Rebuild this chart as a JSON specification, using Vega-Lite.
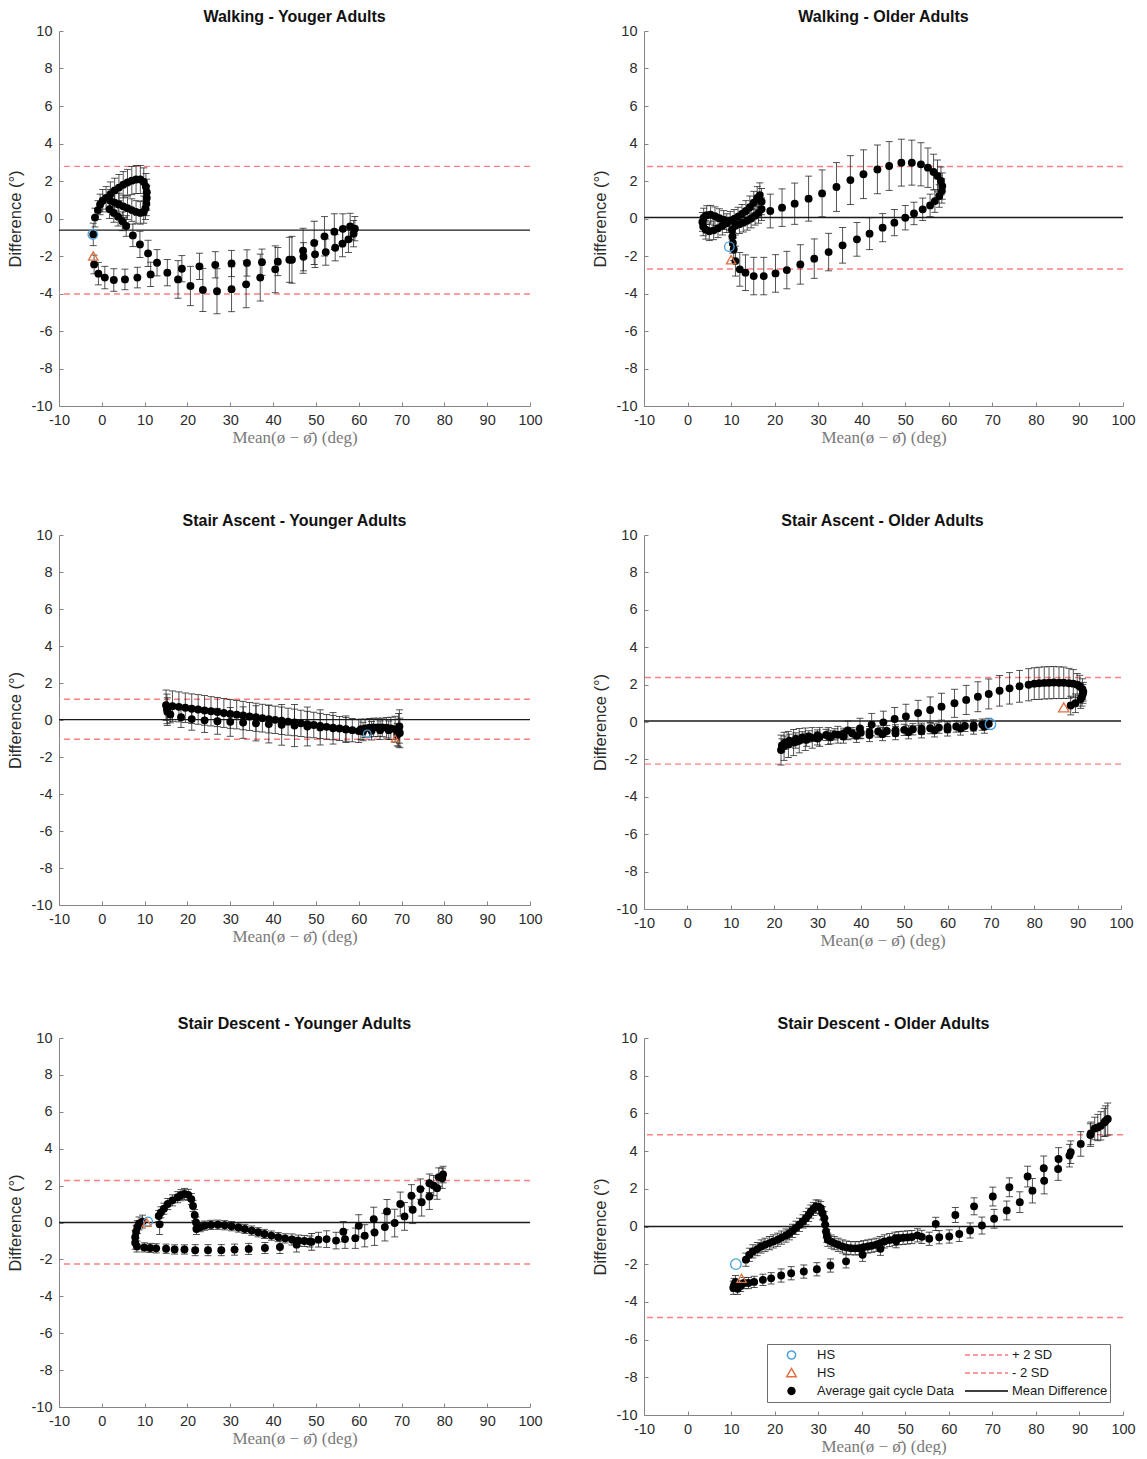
{
"$schema": "https://vega.github.io/schema/vega-lite/v6.json",
"background": "white",
"padding": {"left": 7, "top": 9, "right": 5, "bottom": 0},
"datasets": {
"lines": [
{"p":"wy","k":"sd","y":2.78},{"p":"wy","k":"sd","y":-4.03},{"p":"wy","k":"m","y":-0.62},
{"p":"wo","k":"sd","y":2.77},{"p":"wo","k":"sd","y":-2.69},{"p":"wo","k":"m","y":0.05},
{"p":"ay","k":"sd","y":1.12},{"p":"ay","k":"sd","y":-1.04},{"p":"ay","k":"m","y":0.02},
{"p":"ao","k":"sd","y":2.38},{"p":"ao","k":"sd","y":-2.25},{"p":"ao","k":"m","y":0.05},
{"p":"dy","k":"sd","y":2.28},{"p":"dy","k":"sd","y":-2.25},{"p":"dy","k":"m","y":0.0},
{"p":"do","k":"sd","y":4.87},{"p":"do","k":"sd","y":-4.83},{"p":"do","k":"m","y":0.0}
],
"hs": [
{"p":"wy","s":"HS_c","x":-2.1,"y":-0.85},{"p":"wy","s":"HS_t","x":-2.0,"y":-2.0},
{"p":"wo","s":"HS_c","x":9.6,"y":-1.5},{"p":"wo","s":"HS_t","x":10.0,"y":-2.2},
{"p":"ay","s":"HS_c","x":62.0,"y":-0.75},{"p":"ay","s":"HS_t","x":68.5,"y":-1.0},
{"p":"ao","s":"HS_c","x":69.9,"y":-0.12},{"p":"ao","s":"HS_t","x":86.8,"y":0.78},
{"p":"dy","s":"HS_c","x":10.8,"y":0.05},{"p":"dy","s":"HS_t","x":10.5,"y":0.0},
{"p":"do","s":"HS_c","x":11.1,"y":-2.0},{"p":"do","s":"HS_t","x":12.4,"y":-2.75}
],
"pts": [
{"p":"wy","x":-2.0,"y":-0.85,"e":0.6},{"p":"wy","x":-1.6,"y":0.05,"e":0.5},{"p":"wy","x":-0.9,"y":0.45,"e":0.5},{"p":"wy","x":-0.4,"y":0.75,"e":0.55},{"p":"wy","x":0.2,"y":0.95,"e":0.6},
{"p":"wy","x":1,"y":1.1,"e":0.6},{"p":"wy","x":2,"y":1.3,"e":0.65},{"p":"wy","x":3,"y":1.5,"e":0.65},{"p":"wy","x":4,"y":1.65,"e":0.7},{"p":"wy","x":5,"y":1.8,"e":0.7},{"p":"wy","x":6,"y":1.92,"e":0.7},{"p":"wy","x":7,"y":2.02,"e":0.75},{"p":"wy","x":8,"y":2.08,"e":0.75},{"p":"wy","x":9,"y":2.08,"e":0.75},{"p":"wy","x":9.8,"y":1.95,"e":0.75},
{"p":"wy","x":10.3,"y":1.7,"e":0.7},{"p":"wy","x":10.5,"y":1.4,"e":0.7},{"p":"wy","x":10.5,"y":1.1,"e":0.65},{"p":"wy","x":10.4,"y":0.8,"e":0.65},{"p":"wy","x":10.2,"y":0.55,"e":0.6},{"p":"wy","x":9.8,"y":0.35,"e":0.6},
{"p":"wy","x":9,"y":0.3,"e":0.6},{"p":"wy","x":8,"y":0.35,"e":0.6},{"p":"wy","x":7,"y":0.45,"e":0.6},{"p":"wy","x":6,"y":0.55,"e":0.6},{"p":"wy","x":5,"y":0.65,"e":0.6},{"p":"wy","x":4,"y":0.75,"e":0.6},{"p":"wy","x":3,"y":0.85,"e":0.6},{"p":"wy","x":2,"y":0.95,"e":0.6},
{"p":"wy","x":1.8,"y":0.5,"e":0.5},{"p":"wy","x":2.8,"y":0.3,"e":0.5},{"p":"wy","x":3.8,"y":0.1,"e":0.5},{"p":"wy","x":4.8,"y":-0.15,"e":0.5},{"p":"wy","x":5.7,"y":-0.4,"e":0.55},{"p":"wy","x":7.25,"y":-0.9,"e":0.6},{"p":"wy","x":8.9,"y":-1.38,"e":0.7},{"p":"wy","x":10.8,"y":-1.86,"e":0.7},{"p":"wy","x":12.9,"y":-2.36,"e":0.7},
{"p":"wy","x":18.7,"y":-2.68,"e":0.7},{"p":"wy","x":22.8,"y":-2.55,"e":0.7},{"p":"wy","x":26.5,"y":-2.47,"e":0.7},{"p":"wy","x":30.3,"y":-2.4,"e":0.7},{"p":"wy","x":33.9,"y":-2.37,"e":0.7},{"p":"wy","x":37.4,"y":-2.33,"e":0.7},{"p":"wy","x":41.1,"y":-2.3,"e":0.75},{"p":"wy","x":44.4,"y":-2.2,"e":1.25},{"p":"wy","x":47.0,"y":-1.72,"e":1.2},{"p":"wy","x":49.6,"y":-1.3,"e":1.15},{"p":"wy","x":52.0,"y":-0.95,"e":1.05},{"p":"wy","x":54.3,"y":-0.7,"e":0.95},{"p":"wy","x":56.3,"y":-0.55,"e":0.8},{"p":"wy","x":58.0,"y":-0.42,"e":0.7},
{"p":"wy","x":-1.8,"y":-2.45,"e":0.5},{"p":"wy","x":-0.8,"y":-2.94,"e":0.6},{"p":"wy","x":0.7,"y":-3.15,"e":0.6},{"p":"wy","x":2.8,"y":-3.28,"e":0.6},{"p":"wy","x":5.4,"y":-3.25,"e":0.55},{"p":"wy","x":8.3,"y":-3.15,"e":0.55},{"p":"wy","x":11.4,"y":-2.98,"e":0.65},{"p":"wy","x":15.3,"y":-2.89,"e":0.7},{"p":"wy","x":17.8,"y":-3.25,"e":1.0},{"p":"wy","x":20.7,"y":-3.6,"e":1.05},{"p":"wy","x":23.6,"y":-3.81,"e":1.15},{"p":"wy","x":26.9,"y":-3.88,"e":1.2},{"p":"wy","x":30.3,"y":-3.77,"e":1.2},{"p":"wy","x":33.7,"y":-3.51,"e":1.25},{"p":"wy","x":37.0,"y":-3.15,"e":1.25},{"p":"wy","x":40.5,"y":-2.71,"e":1.25},{"p":"wy","x":43.8,"y":-2.2,"e":1.2},{"p":"wy","x":47.1,"y":-2.04,"e":0.75},{"p":"wy","x":49.8,"y":-1.91,"e":0.7},{"p":"wy","x":52.3,"y":-1.79,"e":0.7},{"p":"wy","x":54.5,"y":-1.56,"e":0.7},{"p":"wy","x":56.2,"y":-1.34,"e":0.7},{"p":"wy","x":57.6,"y":-1.11,"e":0.7},{"p":"wy","x":58.8,"y":-0.81,"e":0.7},{"p":"wy","x":59.1,"y":-0.54,"e":0.65},

{"p":"wo","x":10.6,"y":-1.64,"e":0.6},{"p":"wo","x":11.0,"y":-2.27,"e":0.8},{"p":"wo","x":12.0,"y":-2.71,"e":0.9},{"p":"wo","x":13.3,"y":-2.89,"e":0.95},{"p":"wo","x":15.2,"y":-3.07,"e":1.0},{"p":"wo","x":17.5,"y":-3.07,"e":1.0},{"p":"wo","x":20.2,"y":-2.93,"e":1.0},{"p":"wo","x":22.8,"y":-2.75,"e":1.0},{"p":"wo","x":25.9,"y":-2.45,"e":1.05},{"p":"wo","x":29.1,"y":-2.14,"e":1.05},{"p":"wo","x":32.4,"y":-1.79,"e":1.0},{"p":"wo","x":35.6,"y":-1.43,"e":0.95},{"p":"wo","x":38.9,"y":-1.11,"e":0.9},{"p":"wo","x":41.8,"y":-0.81,"e":0.85},{"p":"wo","x":44.8,"y":-0.49,"e":0.75},{"p":"wo","x":47.5,"y":-0.22,"e":0.7},{"p":"wo","x":50.0,"y":0.04,"e":0.65},{"p":"wo","x":52.0,"y":0.27,"e":0.6},{"p":"wo","x":54.0,"y":0.49,"e":0.6},
{"p":"wo","x":55.7,"y":0.7,"e":0.6},{"p":"wo","x":56.8,"y":0.93,"e":0.6},{"p":"wo","x":57.8,"y":1.2,"e":0.6},{"p":"wo","x":58.4,"y":1.47,"e":0.65},{"p":"wo","x":58.5,"y":1.73,"e":0.7},{"p":"wo","x":58.2,"y":2.0,"e":0.75},{"p":"wo","x":57.4,"y":2.27,"e":0.85},{"p":"wo","x":56.5,"y":2.48,"e":0.95},{"p":"wo","x":55.2,"y":2.71,"e":1.05},{"p":"wo","x":53.6,"y":2.89,"e":1.15},
{"p":"wo","x":51.5,"y":2.98,"e":1.2},{"p":"wo","x":49.1,"y":2.98,"e":1.25},{"p":"wo","x":46.3,"y":2.8,"e":1.3},{"p":"wo","x":43.6,"y":2.62,"e":1.3},{"p":"wo","x":40.4,"y":2.36,"e":1.3},{"p":"wo","x":37.4,"y":2.05,"e":1.3},{"p":"wo","x":34.2,"y":1.68,"e":1.3},{"p":"wo","x":30.9,"y":1.34,"e":1.25},{"p":"wo","x":27.8,"y":1.06,"e":1.2},{"p":"wo","x":24.6,"y":0.79,"e":1.1},{"p":"wo","x":21.7,"y":0.58,"e":1.0},{"p":"wo","x":19.0,"y":0.4,"e":0.9},
{"p":"wo","x":17.0,"y":0.9,"e":0.7},{"p":"wo","x":16.6,"y":1.25,"e":0.65},{"p":"wo","x":16.0,"y":1.1,"e":0.6},{"p":"wo","x":15.2,"y":0.85,"e":0.6},{"p":"wo","x":14.3,"y":0.6,"e":0.6},{"p":"wo","x":13.4,"y":0.4,"e":0.55},{"p":"wo","x":12.5,"y":0.25,"e":0.5},{"p":"wo","x":11.6,"y":0.1,"e":0.5},{"p":"wo","x":10.7,"y":-0.02,"e":0.5},{"p":"wo","x":9.8,"y":-0.12,"e":0.5},
{"p":"wo","x":17.0,"y":0.5,"e":0.6},{"p":"wo","x":16.3,"y":0.3,"e":0.55},{"p":"wo","x":15.5,"y":0.15,"e":0.5},{"p":"wo","x":14.6,"y":0.0,"e":0.5},{"p":"wo","x":13.7,"y":-0.12,"e":0.5},{"p":"wo","x":12.8,"y":-0.22,"e":0.5},{"p":"wo","x":11.9,"y":-0.3,"e":0.5},{"p":"wo","x":11.0,"y":-0.38,"e":0.5},
{"p":"wo","x":9.0,"y":-0.25,"e":0.5},{"p":"wo","x":8.0,"y":-0.38,"e":0.5},{"p":"wo","x":7.0,"y":-0.52,"e":0.5},{"p":"wo","x":6.0,"y":-0.63,"e":0.5},{"p":"wo","x":5.0,"y":-0.68,"e":0.5},{"p":"wo","x":4.2,"y":-0.6,"e":0.5},{"p":"wo","x":3.6,"y":-0.42,"e":0.5},{"p":"wo","x":3.4,"y":-0.18,"e":0.5},{"p":"wo","x":3.7,"y":0.05,"e":0.5},{"p":"wo","x":4.4,"y":0.18,"e":0.5},{"p":"wo","x":5.3,"y":0.2,"e":0.5},{"p":"wo","x":6.3,"y":0.12,"e":0.5},{"p":"wo","x":7.3,"y":0.02,"e":0.5},{"p":"wo","x":8.3,"y":-0.08,"e":0.5},
{"p":"wo","x":10.2,"y":-0.6,"e":0.5},{"p":"wo","x":10.3,"y":-0.95,"e":0.5},{"p":"wo","x":10.4,"y":-1.3,"e":0.55},

{"p":"ay","x":15,"y":0.8,"e":0.82},{"p":"ay","x":16.5,"y":0.75,"e":0.82},{"p":"ay","x":18,"y":0.71,"e":0.81},{"p":"ay","x":19.5,"y":0.66,"e":0.8},{"p":"ay","x":21,"y":0.61,"e":0.8},{"p":"ay","x":22.5,"y":0.57,"e":0.8},{"p":"ay","x":24,"y":0.52,"e":0.8},{"p":"ay","x":25.5,"y":0.47,"e":0.79},{"p":"ay","x":27,"y":0.43,"e":0.79},{"p":"ay","x":28.5,"y":0.38,"e":0.78},{"p":"ay","x":30,"y":0.33,"e":0.78},{"p":"ay","x":31.5,"y":0.29,"e":0.77},{"p":"ay","x":33,"y":0.24,"e":0.77},{"p":"ay","x":34.5,"y":0.19,"e":0.76},{"p":"ay","x":36,"y":0.15,"e":0.76},{"p":"ay","x":37.5,"y":0.1,"e":0.75},{"p":"ay","x":39,"y":0.05,"e":0.75},{"p":"ay","x":40.5,"y":0.01,"e":0.74},{"p":"ay","x":42,"y":-0.04,"e":0.74},{"p":"ay","x":43.5,"y":-0.09,"e":0.73},{"p":"ay","x":45,"y":-0.13,"e":0.72},{"p":"ay","x":46.5,"y":-0.18,"e":0.71},{"p":"ay","x":48,"y":-0.23,"e":0.7},{"p":"ay","x":49.5,"y":-0.27,"e":0.69},{"p":"ay","x":51,"y":-0.32,"e":0.68},{"p":"ay","x":52.5,"y":-0.37,"e":0.67},{"p":"ay","x":54,"y":-0.41,"e":0.66},{"p":"ay","x":55.5,"y":-0.46,"e":0.65},{"p":"ay","x":57,"y":-0.51,"e":0.64},{"p":"ay","x":58.5,"y":-0.55,"e":0.63},{"p":"ay","x":60,"y":-0.6,"e":0.62},
{"p":"ay","x":15.2,"y":0.6,"e":0.8},{"p":"ay","x":15.3,"y":0.45,"e":0.75},{"p":"ay","x":16,"y":0.3,"e":0.45},{"p":"ay","x":18.5,"y":0.15,"e":0.55},{"p":"ay","x":21,"y":0.05,"e":0.6},{"p":"ay","x":24,"y":-0.02,"e":0.65},{"p":"ay","x":27,"y":-0.07,"e":0.7},{"p":"ay","x":30,"y":-0.1,"e":0.78},{"p":"ay","x":33,"y":-0.14,"e":0.85},{"p":"ay","x":36,"y":-0.18,"e":0.95},{"p":"ay","x":39,"y":-0.22,"e":1.02},{"p":"ay","x":42,"y":-0.26,"e":1.1},{"p":"ay","x":45,"y":-0.3,"e":1.14},{"p":"ay","x":48,"y":-0.35,"e":1.05},{"p":"ay","x":51,"y":-0.4,"e":0.95},{"p":"ay","x":54,"y":-0.45,"e":0.85},{"p":"ay","x":57,"y":-0.5,"e":0.72},
{"p":"ay","x":60.5,"y":-0.5,"e":0.55},{"p":"ay","x":61.5,"y":-0.45,"e":0.5},{"p":"ay","x":62.5,"y":-0.42,"e":0.5},{"p":"ay","x":63.5,"y":-0.4,"e":0.5},{"p":"ay","x":64.5,"y":-0.4,"e":0.5},{"p":"ay","x":65.5,"y":-0.4,"e":0.5},{"p":"ay","x":66.5,"y":-0.42,"e":0.55},{"p":"ay","x":67.5,"y":-0.45,"e":0.6},{"p":"ay","x":68.5,"y":-0.5,"e":0.7},{"p":"ay","x":69.3,"y":-0.55,"e":0.9},{"p":"ay","x":69.5,"y":-0.35,"e":0.9},{"p":"ay","x":69.6,"y":-0.7,"e":0.8},{"p":"ay","x":69.0,"y":-0.8,"e":0.6},{"p":"ay","x":61,"y":-0.62,"e":0.5},{"p":"ay","x":63,"y":-0.58,"e":0.5},{"p":"ay","x":65,"y":-0.55,"e":0.5},{"p":"ay","x":67,"y":-0.55,"e":0.5},

{"p":"ao","x":37.0,"y":-0.45,"e":0.5},{"p":"ao","x":39.8,"y":-0.35,"e":0.55},{"p":"ao","x":42.5,"y":-0.14,"e":0.6},{"p":"ao","x":45.2,"y":-0.02,"e":0.6},{"p":"ao","x":47.8,"y":0.16,"e":0.62},{"p":"ao","x":50.4,"y":0.3,"e":0.65},{"p":"ao","x":53.2,"y":0.48,"e":0.68},{"p":"ao","x":56.0,"y":0.64,"e":0.7},{"p":"ao","x":58.6,"y":0.82,"e":0.72},{"p":"ao","x":61.6,"y":1.0,"e":0.75},{"p":"ao","x":64.3,"y":1.18,"e":0.78},{"p":"ao","x":67.0,"y":1.35,"e":0.8},{"p":"ao","x":69.5,"y":1.5,"e":0.8},{"p":"ao","x":72.0,"y":1.67,"e":0.82},{"p":"ao","x":74.3,"y":1.8,"e":0.84},{"p":"ao","x":76.6,"y":1.91,"e":0.85},{"p":"ao","x":78.7,"y":1.99,"e":0.86},{"p":"ao","x":80.0,"y":2.05,"e":0.85},{"p":"ao","x":81.1,"y":2.07,"e":0.86},{"p":"ao","x":82.3,"y":2.09,"e":0.86},{"p":"ao","x":83.4,"y":2.1,"e":0.86},{"p":"ao","x":84.5,"y":2.11,"e":0.86},{"p":"ao","x":85.7,"y":2.1,"e":0.85},{"p":"ao","x":86.8,"y":2.1,"e":0.84},{"p":"ao","x":88.0,"y":2.07,"e":0.8},{"p":"ao","x":89.0,"y":2.05,"e":0.75},{"p":"ao","x":89.9,"y":1.99,"e":0.6},{"p":"ao","x":90.5,"y":1.9,"e":0.6},{"p":"ao","x":91.1,"y":1.76,"e":0.55},{"p":"ao","x":91.3,"y":1.62,"e":0.5},{"p":"ao","x":91.2,"y":1.5,"e":0.5},{"p":"ao","x":91.0,"y":1.35,"e":0.5},{"p":"ao","x":90.7,"y":1.23,"e":0.5},{"p":"ao","x":89.5,"y":1.0,"e":0.5},{"p":"ao","x":88.4,"y":0.88,"e":0.5},
{"p":"ao","x":21.6,"y":-1.5,"e":0.8},{"p":"ao","x":22.3,"y":-1.3,"e":0.75},{"p":"ao","x":23.3,"y":-1.2,"e":0.7},{"p":"ao","x":24.5,"y":-1.1,"e":0.7},{"p":"ao","x":25.8,"y":-1.0,"e":0.65},{"p":"ao","x":27.2,"y":-0.92,"e":0.6},{"p":"ao","x":28.8,"y":-0.85,"e":0.55},{"p":"ao","x":30.5,"y":-0.8,"e":0.5},{"p":"ao","x":32.5,"y":-0.75,"e":0.45},{"p":"ao","x":34.7,"y":-0.68,"e":0.45},
{"p":"ao","x":21.8,"y":-1.25,"e":0.35},{"p":"ao","x":22.5,"y":-1.1,"e":0.35},{"p":"ao","x":23.5,"y":-1.0,"e":0.35},{"p":"ao","x":25,"y":-0.9,"e":0.32},{"p":"ao","x":26.5,"y":-0.82,"e":0.3},{"p":"ao","x":28,"y":-0.77,"e":0.3},{"p":"ao","x":30,"y":-0.72,"e":0.3},{"p":"ao","x":32,"y":-0.69,"e":0.3},{"p":"ao","x":34,"y":-0.66,"e":0.3},{"p":"ao","x":36,"y":-0.63,"e":0.3},{"p":"ao","x":38,"y":-0.6,"e":0.3},{"p":"ao","x":40,"y":-0.57,"e":0.3},{"p":"ao","x":42,"y":-0.54,"e":0.3},{"p":"ao","x":44,"y":-0.51,"e":0.3},{"p":"ao","x":46,"y":-0.48,"e":0.3},{"p":"ao","x":48,"y":-0.45,"e":0.3},{"p":"ao","x":50,"y":-0.42,"e":0.3},{"p":"ao","x":52,"y":-0.39,"e":0.3},{"p":"ao","x":54,"y":-0.36,"e":0.3},{"p":"ao","x":56,"y":-0.33,"e":0.3},{"p":"ao","x":58,"y":-0.3,"e":0.3},{"p":"ao","x":60,"y":-0.27,"e":0.3},{"p":"ao","x":62,"y":-0.24,"e":0.3},{"p":"ao","x":64,"y":-0.21,"e":0.3},{"p":"ao","x":66,"y":-0.18,"e":0.3},{"p":"ao","x":68,"y":-0.14,"e":0.3},{"p":"ao","x":69.5,"y":-0.1,"e":0.3},
{"p":"ao","x":25,"y":-1.05,"e":0.35},{"p":"ao","x":27.5,"y":-0.95,"e":0.35},{"p":"ao","x":30,"y":-0.88,"e":0.35},{"p":"ao","x":33,"y":-0.82,"e":0.35},{"p":"ao","x":36,"y":-0.78,"e":0.35},{"p":"ao","x":39,"y":-0.74,"e":0.35},{"p":"ao","x":42,"y":-0.7,"e":0.35},{"p":"ao","x":45,"y":-0.65,"e":0.35},{"p":"ao","x":48,"y":-0.6,"e":0.35},{"p":"ao","x":51,"y":-0.55,"e":0.35},{"p":"ao","x":54,"y":-0.5,"e":0.35},{"p":"ao","x":57,"y":-0.45,"e":0.35},{"p":"ao","x":60,"y":-0.4,"e":0.35},{"p":"ao","x":63,"y":-0.35,"e":0.35},{"p":"ao","x":66,"y":-0.3,"e":0.35},{"p":"ao","x":68.5,"y":-0.25,"e":0.35},

{"p":"dy","x":8.2,"y":-1.3,"e":0.3},{"p":"dy","x":9.9,"y":-1.35,"e":0.25},{"p":"dy","x":11.3,"y":-1.38,"e":0.25},{"p":"dy","x":12.7,"y":-1.4,"e":0.25},{"p":"dy","x":15.0,"y":-1.42,"e":0.25},{"p":"dy","x":17.0,"y":-1.46,"e":0.25},{"p":"dy","x":19.3,"y":-1.46,"e":0.25},{"p":"dy","x":21.8,"y":-1.5,"e":0.3},{"p":"dy","x":24.8,"y":-1.5,"e":0.3},{"p":"dy","x":27.9,"y":-1.5,"e":0.3},{"p":"dy","x":31.0,"y":-1.47,"e":0.3},{"p":"dy","x":34.3,"y":-1.43,"e":0.3},{"p":"dy","x":38.1,"y":-1.38,"e":0.3},{"p":"dy","x":41.6,"y":-1.33,"e":0.35},{"p":"dy","x":45.5,"y":-1.2,"e":0.4},{"p":"dy","x":49.0,"y":-1.05,"e":0.45},
{"p":"dy","x":7.8,"y":-1.1,"e":0.35},{"p":"dy","x":7.8,"y":-0.8,"e":0.35},{"p":"dy","x":8.0,"y":-0.5,"e":0.35},{"p":"dy","x":8.3,"y":-0.25,"e":0.35},{"p":"dy","x":8.7,"y":-0.05,"e":0.35},{"p":"dy","x":9.5,"y":0.05,"e":0.35},
{"p":"dy","x":13.5,"y":-0.1,"e":0.55},{"p":"dy","x":13.3,"y":0.35,"e":0.3},{"p":"dy","x":13.8,"y":0.55,"e":0.3},{"p":"dy","x":14.5,"y":0.75,"e":0.3},{"p":"dy","x":15.4,"y":1.0,"e":0.3},{"p":"dy","x":16.5,"y":1.2,"e":0.3},{"p":"dy","x":17.7,"y":1.37,"e":0.3},{"p":"dy","x":18.5,"y":1.48,"e":0.3},{"p":"dy","x":19.3,"y":1.55,"e":0.3},{"p":"dy","x":20.2,"y":1.5,"e":0.3},{"p":"dy","x":20.9,"y":1.27,"e":0.3},{"p":"dy","x":21.3,"y":0.9,"e":0.3},{"p":"dy","x":21.7,"y":0.4,"e":0.3},{"p":"dy","x":22.0,"y":0.0,"e":0.3},{"p":"dy","x":22.1,"y":-0.35,"e":0.3},
{"p":"dy","x":23,"y":-0.25,"e":0.25},{"p":"dy","x":24,"y":-0.17,"e":0.25},{"p":"dy","x":25.5,"y":-0.13,"e":0.25},{"p":"dy","x":27.1,"y":-0.12,"e":0.25},{"p":"dy","x":28.7,"y":-0.15,"e":0.25},{"p":"dy","x":30.3,"y":-0.2,"e":0.25},{"p":"dy","x":31.9,"y":-0.27,"e":0.25},{"p":"dy","x":33.4,"y":-0.35,"e":0.25},{"p":"dy","x":35,"y":-0.44,"e":0.25},{"p":"dy","x":36.5,"y":-0.53,"e":0.25},{"p":"dy","x":38,"y":-0.62,"e":0.25},{"p":"dy","x":39.6,"y":-0.71,"e":0.25},{"p":"dy","x":41.2,"y":-0.79,"e":0.25},{"p":"dy","x":42.8,"y":-0.86,"e":0.25},{"p":"dy","x":44.4,"y":-0.92,"e":0.3},{"p":"dy","x":45.9,"y":-0.98,"e":0.3},{"p":"dy","x":47.3,"y":-1.0,"e":0.3},{"p":"dy","x":48.6,"y":-1.03,"e":0.3},
{"p":"dy","x":50.6,"y":-0.93,"e":0.4},{"p":"dy","x":52.5,"y":-0.9,"e":0.45},{"p":"dy","x":54.7,"y":-0.98,"e":0.45},{"p":"dy","x":56.4,"y":-0.5,"e":0.55},{"p":"dy","x":56.8,"y":-0.9,"e":0.5},{"p":"dy","x":59.2,"y":-0.85,"e":0.55},{"p":"dy","x":60.0,"y":-0.18,"e":0.6},{"p":"dy","x":61.4,"y":-0.72,"e":0.6},{"p":"dy","x":63.5,"y":0.18,"e":0.65},{"p":"dy","x":63.7,"y":-0.54,"e":0.7},{"p":"dy","x":66.1,"y":-0.25,"e":0.75},{"p":"dy","x":66.6,"y":0.6,"e":0.65},{"p":"dy","x":68.4,"y":-0.03,"e":0.75},{"p":"dy","x":69.7,"y":1.0,"e":0.65},{"p":"dy","x":70.7,"y":0.33,"e":0.75},{"p":"dy","x":72.3,"y":1.45,"e":0.6},{"p":"dy","x":72.6,"y":0.69,"e":0.75},{"p":"dy","x":74.4,"y":1.81,"e":0.55},{"p":"dy","x":74.7,"y":1.1,"e":0.75},{"p":"dy","x":76.5,"y":2.13,"e":0.5},{"p":"dy","x":76.5,"y":1.41,"e":0.7},{"p":"dy","x":77.5,"y":2.0,"e":0.55},{"p":"dy","x":78.3,"y":1.86,"e":0.6},{"p":"dy","x":78.7,"y":2.46,"e":0.5},{"p":"dy","x":79.5,"y":2.4,"e":0.55},{"p":"dy","x":79.7,"y":2.6,"e":0.45},

{"p":"do","x":10.5,"y":-3.25,"e":0.35},{"p":"do","x":10.7,"y":-3.1,"e":0.35},{"p":"do","x":11.0,"y":-2.95,"e":0.35},{"p":"do","x":11.5,"y":-3.3,"e":0.3},{"p":"do","x":12.2,"y":-3.15,"e":0.3},{"p":"do","x":13.0,"y":-3.0,"e":0.3},{"p":"do","x":14.0,"y":-3.0,"e":0.3},{"p":"do","x":15.3,"y":-2.94,"e":0.3},{"p":"do","x":17.3,"y":-2.83,"e":0.3},{"p":"do","x":19.2,"y":-2.75,"e":0.3},{"p":"do","x":21.5,"y":-2.6,"e":0.35},{"p":"do","x":23.8,"y":-2.48,"e":0.35},{"p":"do","x":26.7,"y":-2.39,"e":0.35},{"p":"do","x":29.7,"y":-2.27,"e":0.35},{"p":"do","x":32.8,"y":-2.07,"e":0.35},{"p":"do","x":36.4,"y":-1.85,"e":0.35},{"p":"do","x":40.2,"y":-1.5,"e":0.35},{"p":"do","x":44.3,"y":-1.18,"e":0.35},{"p":"do","x":47.9,"y":-0.78,"e":0.35},
{"p":"do","x":13.4,"y":-1.76,"e":0.35},{"p":"do","x":14.2,"y":-1.5,"e":0.35},{"p":"do","x":15.0,"y":-1.32,"e":0.35},{"p":"do","x":16.0,"y":-1.2,"e":0.35},{"p":"do","x":16.9,"y":-1.06,"e":0.35},{"p":"do","x":17.8,"y":-0.97,"e":0.35},{"p":"do","x":18.8,"y":-0.88,"e":0.35},{"p":"do","x":19.7,"y":-0.79,"e":0.35},{"p":"do","x":20.7,"y":-0.7,"e":0.35},{"p":"do","x":21.6,"y":-0.59,"e":0.35},{"p":"do","x":22.6,"y":-0.48,"e":0.35},{"p":"do","x":23.4,"y":-0.36,"e":0.35},{"p":"do","x":24.1,"y":-0.23,"e":0.35},{"p":"do","x":24.9,"y":-0.07,"e":0.35},{"p":"do","x":25.7,"y":0.09,"e":0.35},{"p":"do","x":26.5,"y":0.27,"e":0.35},{"p":"do","x":27.2,"y":0.44,"e":0.35},{"p":"do","x":27.8,"y":0.62,"e":0.35},{"p":"do","x":28.3,"y":0.79,"e":0.35},{"p":"do","x":28.9,"y":0.93,"e":0.35},{"p":"do","x":29.5,"y":1.06,"e":0.35},{"p":"do","x":30.1,"y":1.05,"e":0.35},{"p":"do","x":30.6,"y":0.97,"e":0.35},{"p":"do","x":31.0,"y":0.7,"e":0.35},{"p":"do","x":31.4,"y":0.44,"e":0.35},{"p":"do","x":31.6,"y":0.1,"e":0.35},{"p":"do","x":31.8,"y":-0.26,"e":0.35},{"p":"do","x":32.0,"y":-0.5,"e":0.35},{"p":"do","x":32.2,"y":-0.7,"e":0.35},
{"p":"do","x":33.0,"y":-0.8,"e":0.35},{"p":"do","x":33.7,"y":-0.88,"e":0.35},{"p":"do","x":34.6,"y":-0.97,"e":0.35},{"p":"do","x":35.6,"y":-1.06,"e":0.35},{"p":"do","x":36.5,"y":-1.12,"e":0.35},{"p":"do","x":37.5,"y":-1.15,"e":0.35},{"p":"do","x":38.5,"y":-1.16,"e":0.35},{"p":"do","x":39.4,"y":-1.15,"e":0.35},{"p":"do","x":40.4,"y":-1.1,"e":0.35},{"p":"do","x":41.4,"y":-1.06,"e":0.35},{"p":"do","x":42.3,"y":-1.02,"e":0.35},{"p":"do","x":43.3,"y":-0.97,"e":0.35},{"p":"do","x":44.2,"y":-0.88,"e":0.35},{"p":"do","x":45.2,"y":-0.79,"e":0.35},{"p":"do","x":46.4,"y":-0.72,"e":0.35},{"p":"do","x":47.6,"y":-0.65,"e":0.35},{"p":"do","x":48.5,"y":-0.62,"e":0.35},{"p":"do","x":49.5,"y":-0.6,"e":0.35},{"p":"do","x":50.5,"y":-0.58,"e":0.35},{"p":"do","x":51.5,"y":-0.56,"e":0.35},{"p":"do","x":52.8,"y":-0.47,"e":0.35},{"p":"do","x":53.8,"y":-0.55,"e":0.35},{"p":"do","x":55.5,"y":-0.65,"e":0.35},
{"p":"do","x":57.0,"y":0.14,"e":0.35},{"p":"do","x":57.8,"y":-0.57,"e":0.35},{"p":"do","x":60.1,"y":-0.53,"e":0.35},{"p":"do","x":61.5,"y":0.61,"e":0.4},{"p":"do","x":62.4,"y":-0.4,"e":0.4},{"p":"do","x":64.9,"y":-0.21,"e":0.4},{"p":"do","x":65.8,"y":1.07,"e":0.45},{"p":"do","x":67.6,"y":0.05,"e":0.45},{"p":"do","x":70.1,"y":1.59,"e":0.5},{"p":"do","x":70.4,"y":0.41,"e":0.5},{"p":"do","x":73.3,"y":0.85,"e":0.5},{"p":"do","x":73.9,"y":2.08,"e":0.5},{"p":"do","x":76.3,"y":1.29,"e":0.55},{"p":"do","x":78.1,"y":2.65,"e":0.55},{"p":"do","x":79.2,"y":1.9,"e":0.65},{"p":"do","x":81.8,"y":3.09,"e":0.65},{"p":"do","x":81.9,"y":2.43,"e":0.7},{"p":"do","x":85.1,"y":3.05,"e":0.6},{"p":"do","x":85.2,"y":3.58,"e":0.6},{"p":"do","x":87.7,"y":3.76,"e":0.6},{"p":"do","x":88.0,"y":3.94,"e":0.6},{"p":"do","x":90.3,"y":4.38,"e":0.65},{"p":"do","x":92.5,"y":4.85,"e":0.6},{"p":"do","x":92.6,"y":4.94,"e":0.6},{"p":"do","x":93.5,"y":5.2,"e":0.6},{"p":"do","x":94.2,"y":5.25,"e":0.7},{"p":"do","x":94.9,"y":5.34,"e":0.75},{"p":"do","x":95.7,"y":5.52,"e":0.75},{"p":"do","x":96.0,"y":5.6,"e":0.8},{"p":"do","x":96.5,"y":5.7,"e":0.85}
]
},
"vconcat": [
{"hconcat": [
{"width": 471, "height": 375, "title": "Walking - Youger Adults", "layer": [
{"data": {"name": "lines"}, "transform": [{"filter": "datum.p == 'wy' && datum.k == 'sd'"}], "mark": {"type": "rule", "color": "#ff8080", "strokeDash": [6, 4], "strokeWidth": 1.4}, "encoding": {"y": {"field": "y", "type": "quantitative", "title": "Difference (°)", "scale": {"domain": [-10, 10], "nice": false, "zero": false}, "axis": {"values": [-10,-8,-6,-4,-2,0,2,4,6,8,10], "labelOverlap": false}}}},
{"data": {"name": "lines"}, "transform": [{"filter": "datum.p == 'wy' && datum.k == 'm'"}], "mark": {"type": "rule", "color": "#1a1a1a", "strokeWidth": 1.4}, "encoding": {"y": {"field": "y", "type": "quantitative", "title": "Difference (°)", "scale": {"domain": [-10, 10], "nice": false, "zero": false}, "axis": {"values": [-10,-8,-6,-4,-2,0,2,4,6,8,10], "labelOverlap": false}}}},
{"data": {"name": "pts"}, "transform": [{"filter": "datum.p == 'wy'"}], "mark": {"type": "errorbar", "ticks": {"color": "#1e1e1e", "opacity": 0.85}, "rule": {"color": "#1e1e1e", "opacity": 0.85}, "size": 7, "thickness": 0.9}, "encoding": {"x": {"field": "x", "type": "quantitative", "title": "Mean(ø \u2212 ø\u0304) (deg)", "scale": {"domain": [-10, 100], "nice": false, "zero": false}, "axis": {"values": [-10,0,10,20,30,40,50,60,70,80,90,100], "labelOverlap": false}}, "y": {"field": "y", "type": "quantitative", "title": "Difference (°)", "scale": {"domain": [-10, 10], "nice": false, "zero": false}, "axis": {"values": [-10,-8,-6,-4,-2,0,2,4,6,8,10], "labelOverlap": false}}, "yError": {"field": "e"}}},
{"data": {"name": "pts"}, "transform": [{"filter": "datum.p == 'wy'"}], "mark": {"type": "point", "filled": true, "shape": "circle", "size": 62, "color": "#000000", "opacity": 1}, "encoding": {"x": {"field": "x", "type": "quantitative", "title": "Mean(ø \u2212 ø\u0304) (deg)", "scale": {"domain": [-10, 100], "nice": false, "zero": false}, "axis": {"values": [-10,0,10,20,30,40,50,60,70,80,90,100], "labelOverlap": false}}, "y": {"field": "y", "type": "quantitative", "title": "Difference (°)", "scale": {"domain": [-10, 10], "nice": false, "zero": false}, "axis": {"values": [-10,-8,-6,-4,-2,0,2,4,6,8,10], "labelOverlap": false}}}},
{"data": {"name": "hs"}, "transform": [{"filter": "datum.p == 'wy'"}], "mark": {"type": "point", "filled": false, "size": 90, "strokeWidth": 1.3, "opacity": 1}, "encoding": {"x": {"field": "x", "type": "quantitative", "title": "Mean(ø \u2212 ø\u0304) (deg)", "scale": {"domain": [-10, 100], "nice": false, "zero": false}, "axis": {"values": [-10,0,10,20,30,40,50,60,70,80,90,100], "labelOverlap": false}}, "y": {"field": "y", "type": "quantitative", "title": "Difference (°)", "scale": {"domain": [-10, 10], "nice": false, "zero": false}, "axis": {"values": [-10,-8,-6,-4,-2,0,2,4,6,8,10], "labelOverlap": false}}, "color": {"field": "s", "type": "nominal", "scale": {"domain": ["HS_c", "HS_t"], "range": ["#4aa0dc", "#e07040"]}, "legend": null}, "shape": {"field": "s", "type": "nominal", "scale": {"domain": ["HS_c", "HS_t"], "range": ["circle", "triangle-up"]}, "legend": null}}}
]},
{"width": 479, "height": 375, "title": "Walking - Older Adults", "layer": [
{"data": {"name": "lines"}, "transform": [{"filter": "datum.p == 'wo' && datum.k == 'sd'"}], "mark": {"type": "rule", "color": "#ff8080", "strokeDash": [6, 4], "strokeWidth": 1.4}, "encoding": {"y": {"field": "y", "type": "quantitative", "title": "Difference (°)", "scale": {"domain": [-10, 10], "nice": false, "zero": false}, "axis": {"values": [-10,-8,-6,-4,-2,0,2,4,6,8,10], "labelOverlap": false}}}},
{"data": {"name": "lines"}, "transform": [{"filter": "datum.p == 'wo' && datum.k == 'm'"}], "mark": {"type": "rule", "color": "#1a1a1a", "strokeWidth": 1.4}, "encoding": {"y": {"field": "y", "type": "quantitative", "title": "Difference (°)", "scale": {"domain": [-10, 10], "nice": false, "zero": false}, "axis": {"values": [-10,-8,-6,-4,-2,0,2,4,6,8,10], "labelOverlap": false}}}},
{"data": {"name": "pts"}, "transform": [{"filter": "datum.p == 'wo'"}], "mark": {"type": "errorbar", "ticks": {"color": "#1e1e1e", "opacity": 0.85}, "rule": {"color": "#1e1e1e", "opacity": 0.85}, "size": 7, "thickness": 0.9}, "encoding": {"x": {"field": "x", "type": "quantitative", "title": "Mean(ø \u2212 ø\u0304) (deg)", "scale": {"domain": [-10, 100], "nice": false, "zero": false}, "axis": {"values": [-10,0,10,20,30,40,50,60,70,80,90,100], "labelOverlap": false}}, "y": {"field": "y", "type": "quantitative", "title": "Difference (°)", "scale": {"domain": [-10, 10], "nice": false, "zero": false}, "axis": {"values": [-10,-8,-6,-4,-2,0,2,4,6,8,10], "labelOverlap": false}}, "yError": {"field": "e"}}},
{"data": {"name": "pts"}, "transform": [{"filter": "datum.p == 'wo'"}], "mark": {"type": "point", "filled": true, "shape": "circle", "size": 62, "color": "#000000", "opacity": 1}, "encoding": {"x": {"field": "x", "type": "quantitative", "title": "Mean(ø \u2212 ø\u0304) (deg)", "scale": {"domain": [-10, 100], "nice": false, "zero": false}, "axis": {"values": [-10,0,10,20,30,40,50,60,70,80,90,100], "labelOverlap": false}}, "y": {"field": "y", "type": "quantitative", "title": "Difference (°)", "scale": {"domain": [-10, 10], "nice": false, "zero": false}, "axis": {"values": [-10,-8,-6,-4,-2,0,2,4,6,8,10], "labelOverlap": false}}}},
{"data": {"name": "hs"}, "transform": [{"filter": "datum.p == 'wo'"}], "mark": {"type": "point", "filled": false, "size": 90, "strokeWidth": 1.3, "opacity": 1}, "encoding": {"x": {"field": "x", "type": "quantitative", "title": "Mean(ø \u2212 ø\u0304) (deg)", "scale": {"domain": [-10, 100], "nice": false, "zero": false}, "axis": {"values": [-10,0,10,20,30,40,50,60,70,80,90,100], "labelOverlap": false}}, "y": {"field": "y", "type": "quantitative", "title": "Difference (°)", "scale": {"domain": [-10, 10], "nice": false, "zero": false}, "axis": {"values": [-10,-8,-6,-4,-2,0,2,4,6,8,10], "labelOverlap": false}}, "color": {"field": "s", "type": "nominal", "scale": {"domain": ["HS_c", "HS_t"], "range": ["#4aa0dc", "#e07040"]}, "legend": null}, "shape": {"field": "s", "type": "nominal", "scale": {"domain": ["HS_c", "HS_t"], "range": ["circle", "triangle-up"]}, "legend": null}}}
]}
], "spacing": 49, "resolve": {"scale": {"color": "independent", "shape": "independent"}}},
{"hconcat": [
{"width": 471, "height": 370, "title": "Stair Ascent - Younger Adults", "layer": [
{"data": {"name": "lines"}, "transform": [{"filter": "datum.p == 'ay' && datum.k == 'sd'"}], "mark": {"type": "rule", "color": "#ff8080", "strokeDash": [6, 4], "strokeWidth": 1.4}, "encoding": {"y": {"field": "y", "type": "quantitative", "title": "Difference (°)", "scale": {"domain": [-10, 10], "nice": false, "zero": false}, "axis": {"values": [-10,-8,-6,-4,-2,0,2,4,6,8,10], "labelOverlap": false}}}},
{"data": {"name": "lines"}, "transform": [{"filter": "datum.p == 'ay' && datum.k == 'm'"}], "mark": {"type": "rule", "color": "#1a1a1a", "strokeWidth": 1.4}, "encoding": {"y": {"field": "y", "type": "quantitative", "title": "Difference (°)", "scale": {"domain": [-10, 10], "nice": false, "zero": false}, "axis": {"values": [-10,-8,-6,-4,-2,0,2,4,6,8,10], "labelOverlap": false}}}},
{"data": {"name": "pts"}, "transform": [{"filter": "datum.p == 'ay'"}], "mark": {"type": "errorbar", "ticks": {"color": "#1e1e1e", "opacity": 0.85}, "rule": {"color": "#1e1e1e", "opacity": 0.85}, "size": 7, "thickness": 0.9}, "encoding": {"x": {"field": "x", "type": "quantitative", "title": "Mean(ø \u2212 ø\u0304) (deg)", "scale": {"domain": [-10, 100], "nice": false, "zero": false}, "axis": {"values": [-10,0,10,20,30,40,50,60,70,80,90,100], "labelOverlap": false}}, "y": {"field": "y", "type": "quantitative", "title": "Difference (°)", "scale": {"domain": [-10, 10], "nice": false, "zero": false}, "axis": {"values": [-10,-8,-6,-4,-2,0,2,4,6,8,10], "labelOverlap": false}}, "yError": {"field": "e"}}},
{"data": {"name": "pts"}, "transform": [{"filter": "datum.p == 'ay'"}], "mark": {"type": "point", "filled": true, "shape": "circle", "size": 62, "color": "#000000", "opacity": 1}, "encoding": {"x": {"field": "x", "type": "quantitative", "title": "Mean(ø \u2212 ø\u0304) (deg)", "scale": {"domain": [-10, 100], "nice": false, "zero": false}, "axis": {"values": [-10,0,10,20,30,40,50,60,70,80,90,100], "labelOverlap": false}}, "y": {"field": "y", "type": "quantitative", "title": "Difference (°)", "scale": {"domain": [-10, 10], "nice": false, "zero": false}, "axis": {"values": [-10,-8,-6,-4,-2,0,2,4,6,8,10], "labelOverlap": false}}}},
{"data": {"name": "hs"}, "transform": [{"filter": "datum.p == 'ay'"}], "mark": {"type": "point", "filled": false, "size": 60, "strokeWidth": 1.2, "opacity": 1}, "encoding": {"x": {"field": "x", "type": "quantitative", "title": "Mean(ø \u2212 ø\u0304) (deg)", "scale": {"domain": [-10, 100], "nice": false, "zero": false}, "axis": {"values": [-10,0,10,20,30,40,50,60,70,80,90,100], "labelOverlap": false}}, "y": {"field": "y", "type": "quantitative", "title": "Difference (°)", "scale": {"domain": [-10, 10], "nice": false, "zero": false}, "axis": {"values": [-10,-8,-6,-4,-2,0,2,4,6,8,10], "labelOverlap": false}}, "color": {"field": "s", "type": "nominal", "scale": {"domain": ["HS_c", "HS_t"], "range": ["#4aa0dc", "#e07040"]}, "legend": null}, "shape": {"field": "s", "type": "nominal", "scale": {"domain": ["HS_c", "HS_t"], "range": ["circle", "triangle-up"]}, "legend": null}}}
]},
{"width": 477, "height": 374, "title": "Stair Ascent - Older Adults", "layer": [
{"data": {"name": "lines"}, "transform": [{"filter": "datum.p == 'ao' && datum.k == 'sd'"}], "mark": {"type": "rule", "color": "#ff8080", "strokeDash": [6, 4], "strokeWidth": 1.4}, "encoding": {"y": {"field": "y", "type": "quantitative", "title": "Difference (°)", "scale": {"domain": [-10, 10], "nice": false, "zero": false}, "axis": {"values": [-10,-8,-6,-4,-2,0,2,4,6,8,10], "labelOverlap": false}}}},
{"data": {"name": "lines"}, "transform": [{"filter": "datum.p == 'ao' && datum.k == 'm'"}], "mark": {"type": "rule", "color": "#1a1a1a", "strokeWidth": 1.4}, "encoding": {"y": {"field": "y", "type": "quantitative", "title": "Difference (°)", "scale": {"domain": [-10, 10], "nice": false, "zero": false}, "axis": {"values": [-10,-8,-6,-4,-2,0,2,4,6,8,10], "labelOverlap": false}}}},
{"data": {"name": "pts"}, "transform": [{"filter": "datum.p == 'ao'"}], "mark": {"type": "errorbar", "ticks": {"color": "#1e1e1e", "opacity": 0.85}, "rule": {"color": "#1e1e1e", "opacity": 0.85}, "size": 7, "thickness": 0.9}, "encoding": {"x": {"field": "x", "type": "quantitative", "title": "Mean(ø \u2212 ø\u0304) (deg)", "scale": {"domain": [-10, 100], "nice": false, "zero": false}, "axis": {"values": [-10,0,10,20,30,40,50,60,70,80,90,100], "labelOverlap": false}}, "y": {"field": "y", "type": "quantitative", "title": "Difference (°)", "scale": {"domain": [-10, 10], "nice": false, "zero": false}, "axis": {"values": [-10,-8,-6,-4,-2,0,2,4,6,8,10], "labelOverlap": false}}, "yError": {"field": "e"}}},
{"data": {"name": "pts"}, "transform": [{"filter": "datum.p == 'ao'"}], "mark": {"type": "point", "filled": true, "shape": "circle", "size": 62, "color": "#000000", "opacity": 1}, "encoding": {"x": {"field": "x", "type": "quantitative", "title": "Mean(ø \u2212 ø\u0304) (deg)", "scale": {"domain": [-10, 100], "nice": false, "zero": false}, "axis": {"values": [-10,0,10,20,30,40,50,60,70,80,90,100], "labelOverlap": false}}, "y": {"field": "y", "type": "quantitative", "title": "Difference (°)", "scale": {"domain": [-10, 10], "nice": false, "zero": false}, "axis": {"values": [-10,-8,-6,-4,-2,0,2,4,6,8,10], "labelOverlap": false}}}},
{"data": {"name": "hs"}, "transform": [{"filter": "datum.p == 'ao'"}], "mark": {"type": "point", "filled": false, "size": 110, "strokeWidth": 1.3, "opacity": 1}, "encoding": {"x": {"field": "x", "type": "quantitative", "title": "Mean(ø \u2212 ø\u0304) (deg)", "scale": {"domain": [-10, 100], "nice": false, "zero": false}, "axis": {"values": [-10,0,10,20,30,40,50,60,70,80,90,100], "labelOverlap": false}}, "y": {"field": "y", "type": "quantitative", "title": "Difference (°)", "scale": {"domain": [-10, 10], "nice": false, "zero": false}, "axis": {"values": [-10,-8,-6,-4,-2,0,2,4,6,8,10], "labelOverlap": false}}, "color": {"field": "s", "type": "nominal", "scale": {"domain": ["HS_c", "HS_t"], "range": ["#4aa0dc", "#e07040"]}, "legend": null}, "shape": {"field": "s", "type": "nominal", "scale": {"domain": ["HS_c", "HS_t"], "range": ["circle", "triangle-up"]}, "legend": null}}}
]}
], "spacing": 49, "resolve": {"scale": {"color": "independent", "shape": "independent"}}},
{"hconcat": [
{"width": 471, "height": 369, "title": "Stair Descent - Younger Adults", "layer": [
{"data": {"name": "lines"}, "transform": [{"filter": "datum.p == 'dy' && datum.k == 'sd'"}], "mark": {"type": "rule", "color": "#ff8080", "strokeDash": [6, 4], "strokeWidth": 1.4}, "encoding": {"y": {"field": "y", "type": "quantitative", "title": "Difference (°)", "scale": {"domain": [-10, 10], "nice": false, "zero": false}, "axis": {"values": [-10,-8,-6,-4,-2,0,2,4,6,8,10], "labelOverlap": false}}}},
{"data": {"name": "lines"}, "transform": [{"filter": "datum.p == 'dy' && datum.k == 'm'"}], "mark": {"type": "rule", "color": "#1a1a1a", "strokeWidth": 1.4}, "encoding": {"y": {"field": "y", "type": "quantitative", "title": "Difference (°)", "scale": {"domain": [-10, 10], "nice": false, "zero": false}, "axis": {"values": [-10,-8,-6,-4,-2,0,2,4,6,8,10], "labelOverlap": false}}}},
{"data": {"name": "pts"}, "transform": [{"filter": "datum.p == 'dy'"}], "mark": {"type": "errorbar", "ticks": {"color": "#1e1e1e", "opacity": 0.85}, "rule": {"color": "#1e1e1e", "opacity": 0.85}, "size": 7, "thickness": 0.9}, "encoding": {"x": {"field": "x", "type": "quantitative", "title": "Mean(ø \u2212 ø\u0304) (deg)", "scale": {"domain": [-10, 100], "nice": false, "zero": false}, "axis": {"values": [-10,0,10,20,30,40,50,60,70,80,90,100], "labelOverlap": false}}, "y": {"field": "y", "type": "quantitative", "title": "Difference (°)", "scale": {"domain": [-10, 10], "nice": false, "zero": false}, "axis": {"values": [-10,-8,-6,-4,-2,0,2,4,6,8,10], "labelOverlap": false}}, "yError": {"field": "e"}}},
{"data": {"name": "pts"}, "transform": [{"filter": "datum.p == 'dy'"}], "mark": {"type": "point", "filled": true, "shape": "circle", "size": 62, "color": "#000000", "opacity": 1}, "encoding": {"x": {"field": "x", "type": "quantitative", "title": "Mean(ø \u2212 ø\u0304) (deg)", "scale": {"domain": [-10, 100], "nice": false, "zero": false}, "axis": {"values": [-10,0,10,20,30,40,50,60,70,80,90,100], "labelOverlap": false}}, "y": {"field": "y", "type": "quantitative", "title": "Difference (°)", "scale": {"domain": [-10, 10], "nice": false, "zero": false}, "axis": {"values": [-10,-8,-6,-4,-2,0,2,4,6,8,10], "labelOverlap": false}}}},
{"data": {"name": "hs"}, "transform": [{"filter": "datum.p == 'dy'"}], "mark": {"type": "point", "filled": false, "size": 80, "strokeWidth": 1.2, "opacity": 1}, "encoding": {"x": {"field": "x", "type": "quantitative", "title": "Mean(ø \u2212 ø\u0304) (deg)", "scale": {"domain": [-10, 100], "nice": false, "zero": false}, "axis": {"values": [-10,0,10,20,30,40,50,60,70,80,90,100], "labelOverlap": false}}, "y": {"field": "y", "type": "quantitative", "title": "Difference (°)", "scale": {"domain": [-10, 10], "nice": false, "zero": false}, "axis": {"values": [-10,-8,-6,-4,-2,0,2,4,6,8,10], "labelOverlap": false}}, "color": {"field": "s", "type": "nominal", "scale": {"domain": ["HS_c", "HS_t"], "range": ["#4aa0dc", "#e07040"]}, "legend": null}, "shape": {"field": "s", "type": "nominal", "scale": {"domain": ["HS_c", "HS_t"], "range": ["circle", "triangle-up"]}, "legend": null}}}
]},
{"width": 479, "height": 377, "title": "Stair Descent - Older Adults", "layer": [
{"data": {"name": "lines"}, "transform": [{"filter": "datum.p == 'do' && datum.k == 'sd'"}], "mark": {"type": "rule", "color": "#ff8080", "strokeDash": [6, 4], "strokeWidth": 1.4}, "encoding": {"y": {"field": "y", "type": "quantitative", "title": "Difference (°)", "scale": {"domain": [-10, 10], "nice": false, "zero": false}, "axis": {"values": [-10,-8,-6,-4,-2,0,2,4,6,8,10], "labelOverlap": false}}}},
{"data": {"name": "lines"}, "transform": [{"filter": "datum.p == 'do' && datum.k == 'm'"}], "mark": {"type": "rule", "color": "#1a1a1a", "strokeWidth": 1.4}, "encoding": {"y": {"field": "y", "type": "quantitative", "title": "Difference (°)", "scale": {"domain": [-10, 10], "nice": false, "zero": false}, "axis": {"values": [-10,-8,-6,-4,-2,0,2,4,6,8,10], "labelOverlap": false}}}},
{"data": {"name": "pts"}, "transform": [{"filter": "datum.p == 'do'"}], "mark": {"type": "errorbar", "ticks": {"color": "#1e1e1e", "opacity": 0.85}, "rule": {"color": "#1e1e1e", "opacity": 0.85}, "size": 7, "thickness": 0.9}, "encoding": {"x": {"field": "x", "type": "quantitative", "title": "Mean(ø \u2212 ø\u0304) (deg)", "scale": {"domain": [-10, 100], "nice": false, "zero": false}, "axis": {"values": [-10,0,10,20,30,40,50,60,70,80,90,100], "labelOverlap": false}}, "y": {"field": "y", "type": "quantitative", "title": "Difference (°)", "scale": {"domain": [-10, 10], "nice": false, "zero": false}, "axis": {"values": [-10,-8,-6,-4,-2,0,2,4,6,8,10], "labelOverlap": false}}, "yError": {"field": "e"}}},
{"data": {"name": "pts"}, "transform": [{"filter": "datum.p == 'do'"}], "mark": {"type": "point", "filled": true, "shape": "circle", "size": 62, "color": "#000000", "opacity": 1}, "encoding": {"x": {"field": "x", "type": "quantitative", "title": "Mean(ø \u2212 ø\u0304) (deg)", "scale": {"domain": [-10, 100], "nice": false, "zero": false}, "axis": {"values": [-10,0,10,20,30,40,50,60,70,80,90,100], "labelOverlap": false}}, "y": {"field": "y", "type": "quantitative", "title": "Difference (°)", "scale": {"domain": [-10, 10], "nice": false, "zero": false}, "axis": {"values": [-10,-8,-6,-4,-2,0,2,4,6,8,10], "labelOverlap": false}}}},
{"data": {"name": "hs"}, "transform": [{"filter": "datum.p == 'do' && datum.s == 'HS_c'"}], "mark": {"type": "point", "filled": false, "shape": "circle", "size": 110, "strokeWidth": 1.3, "color": "#4aa0dc", "opacity": 1}, "encoding": {"x": {"field": "x", "type": "quantitative", "title": "Mean(ø \u2212 ø\u0304) (deg)", "scale": {"domain": [-10, 100], "nice": false, "zero": false}, "axis": {"values": [-10,0,10,20,30,40,50,60,70,80,90,100], "labelOverlap": false}}, "y": {"field": "y", "type": "quantitative", "title": "Difference (°)", "scale": {"domain": [-10, 10], "nice": false, "zero": false}, "axis": {"values": [-10,-8,-6,-4,-2,0,2,4,6,8,10], "labelOverlap": false}}}},
{"data": {"name": "hs"}, "transform": [{"filter": "datum.p == 'do' && datum.s == 'HS_t'"}], "mark": {"type": "point", "filled": false, "shape": "triangle-up", "size": 90, "strokeWidth": 1.3, "color": "#e07040", "opacity": 1}, "encoding": {"x": {"field": "x", "type": "quantitative", "title": "Mean(ø \u2212 ø\u0304) (deg)", "scale": {"domain": [-10, 100], "nice": false, "zero": false}, "axis": {"values": [-10,0,10,20,30,40,50,60,70,80,90,100], "labelOverlap": false}}, "y": {"field": "y", "type": "quantitative", "title": "Difference (°)", "scale": {"domain": [-10, 10], "nice": false, "zero": false}, "axis": {"values": [-10,-8,-6,-4,-2,0,2,4,6,8,10], "labelOverlap": false}}}},
{"data": {"name": "hs"}, "transform": [{"filter": "false"}], "mark": {"type": "point", "opacity": 1, "strokeWidth": 1.5}, "encoding": {"x": {"field": "x", "type": "quantitative", "title": "Mean(ø \u2212 ø\u0304) (deg)", "scale": {"domain": [-10, 100], "nice": false, "zero": false}, "axis": {"values": [-10,0,10,20,30,40,50,60,70,80,90,100], "labelOverlap": false}}, "y": {"field": "y", "type": "quantitative", "title": "Difference (°)", "scale": {"domain": [-10, 10], "nice": false, "zero": false}, "axis": {"values": [-10,-8,-6,-4,-2,0,2,4,6,8,10], "labelOverlap": false}},
 "stroke": {"field": "s", "type": "nominal", "scale": {"domain": ["HS_c", "p2sd", "HS_t", "m2sd", "avg", "mean"], "range": ["#4aa0dc", "#ff7f7f", "#e07040", "#ff7f7f", "#000000", "#000000"]},
   "legend": {"title": null, "orient": "bottom-right", "direction": "horizontal", "offset": 13, "columns": 2, "columnPadding": 9, "rowPadding": 0, "clipHeight": 18, "padding": 2, "strokeColor": "#6e6e6e", "fillColor": "#ffffff", "labelFont": "Liberation Sans", "labelFontSize": 13, "labelColor": "#1a1a1a", "labelOffset": 3, "labelLimit": 220, "symbolSize": 1849, "symbolStrokeWidth": 1.5, "symbolOpacity": 1,
     "labelExpr": "(datum.value == 'HS_c' || datum.value == 'HS_t') ? 'HS' : datum.value == 'avg' ? 'Average gait cycle Data' : datum.value == 'p2sd' ? '+ 2 SD' : datum.value == 'm2sd' ? '- 2 SD' : 'Mean Difference'"}},
 "fill": {"field": "s", "type": "nominal", "scale": {"domain": ["HS_c", "p2sd", "HS_t", "m2sd", "avg", "mean"], "range": ["transparent", "transparent", "transparent", "transparent", "#000000", "transparent"]},
   "legend": {"title": null, "orient": "bottom-right", "direction": "horizontal", "offset": 13, "columns": 2, "columnPadding": 9, "rowPadding": 0, "clipHeight": 18, "padding": 2, "strokeColor": "#6e6e6e", "fillColor": "#ffffff", "labelFont": "Liberation Sans", "labelFontSize": 13, "labelColor": "#1a1a1a", "labelOffset": 3, "labelLimit": 220, "symbolSize": 1849, "symbolStrokeWidth": 1.5, "symbolOpacity": 1,
     "labelExpr": "(datum.value == 'HS_c' || datum.value == 'HS_t') ? 'HS' : datum.value == 'avg' ? 'Average gait cycle Data' : datum.value == 'p2sd' ? '+ 2 SD' : datum.value == 'm2sd' ? '- 2 SD' : 'Mean Difference'"}},
 "shape": {"field": "s", "type": "nominal", "scale": {"domain": ["HS_c", "p2sd", "HS_t", "m2sd", "avg", "mean"], "range": ["M-0.19,0A0.19,0.19,0,1,1,0.19,0A0.19,0.19,0,1,1,-0.19,0Z", "M-1,0L1,0", "M0,-0.21L0.22,0.17L-0.22,0.17Z", "M-1,0L1,0", "M-0.16,0A0.16,0.16,0,1,1,0.16,0A0.16,0.16,0,1,1,-0.16,0Z", "M-1,0L1,0"]},
   "legend": {"title": null, "orient": "bottom-right", "direction": "horizontal", "offset": 13, "columns": 2, "columnPadding": 9, "rowPadding": 0, "clipHeight": 18, "padding": 2, "strokeColor": "#6e6e6e", "fillColor": "#ffffff", "labelFont": "Liberation Sans", "labelFontSize": 13, "labelColor": "#1a1a1a", "labelOffset": 3, "labelLimit": 220, "symbolSize": 1849, "symbolStrokeWidth": 1.5, "symbolOpacity": 1,
     "labelExpr": "(datum.value == 'HS_c' || datum.value == 'HS_t') ? 'HS' : datum.value == 'avg' ? 'Average gait cycle Data' : datum.value == 'p2sd' ? '+ 2 SD' : datum.value == 'm2sd' ? '- 2 SD' : 'Mean Difference'"}},
 "strokeDash": {"field": "s", "type": "nominal", "scale": {"domain": ["HS_c", "p2sd", "HS_t", "m2sd", "avg", "mean"], "range": [[1, 0], [5, 3], [1, 0], [5, 3], [1, 0], [1, 0]]},
   "legend": {"title": null, "orient": "bottom-right", "direction": "horizontal", "offset": 13, "columns": 2, "columnPadding": 9, "rowPadding": 0, "clipHeight": 18, "padding": 2, "strokeColor": "#6e6e6e", "fillColor": "#ffffff", "labelFont": "Liberation Sans", "labelFontSize": 13, "labelColor": "#1a1a1a", "labelOffset": 3, "labelLimit": 220, "symbolSize": 1849, "symbolStrokeWidth": 1.5, "symbolOpacity": 1,
     "labelExpr": "(datum.value == 'HS_c' || datum.value == 'HS_t') ? 'HS' : datum.value == 'avg' ? 'Average gait cycle Data' : datum.value == 'p2sd' ? '+ 2 SD' : datum.value == 'm2sd' ? '- 2 SD' : 'Mean Difference'"}}}}
]}
], "spacing": 49, "resolve": {"scale": {"color": "independent", "shape": "independent", "fill": "independent", "stroke": "independent", "strokeDash": "independent"}}}
],
"spacing": 67,
"resolve": {"scale": {"color": "independent", "shape": "independent", "fill": "independent", "stroke": "independent", "strokeDash": "independent"}},
"config": {
 "view": {"stroke": null},
 "font": "Liberation Sans",
 "axis": {"grid": false, "domainColor": "#858585", "domainWidth": 1, "tickColor": "#858585", "tickSize": -4, "labelColor": "#2b2b2b", "labelFontSize": 14.5, "labelFont": "Liberation Sans", "labelPadding": 11, "labelFlush": false, "labelOverlap": false, "labelExpr": "'' + datum.value"},
 "axisX": {"titleFont": "Liberation Serif", "titleFontSize": 17, "titleFontWeight": "normal", "titleColor": "#7a7a7a", "titlePadding": 3},
 "axisY": {"titleFont": "Liberation Sans", "titleFontSize": 16.5, "titleFontWeight": "normal", "titleColor": "#2b2b2b", "titlePadding": 8},
 "title": {"font": "Liberation Sans", "fontSize": 16, "fontWeight": "bold", "color": "#111111", "offset": -2, "anchor": "middle"}
}
}
